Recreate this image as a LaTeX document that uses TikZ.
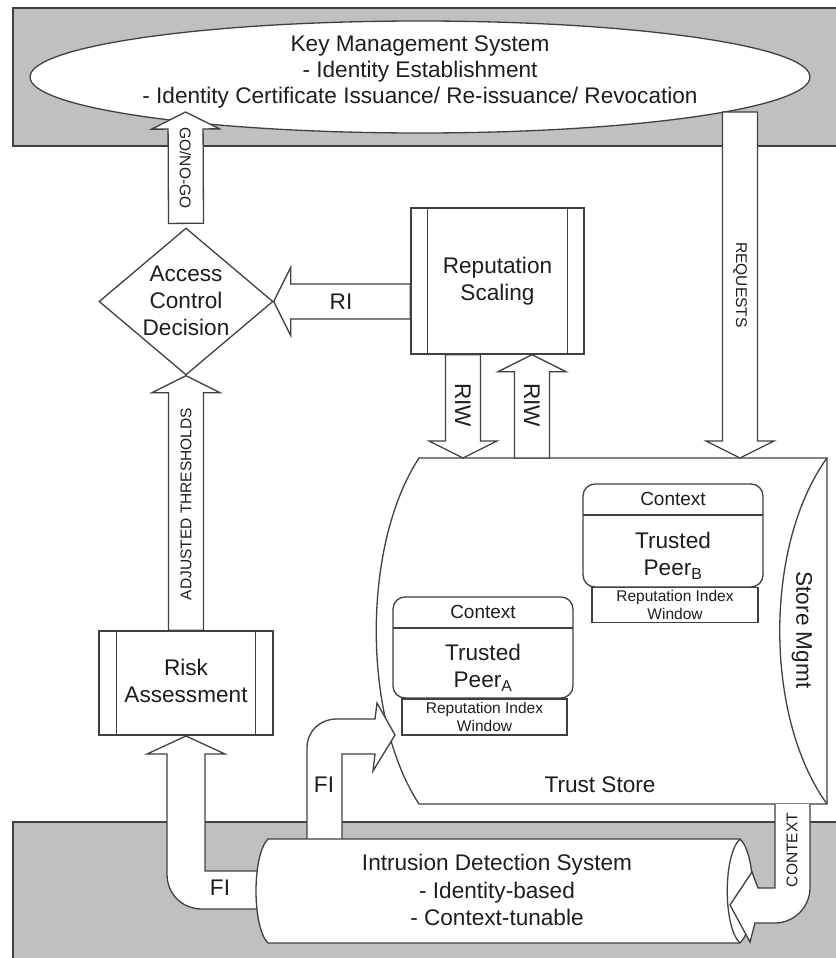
\documentclass[tikz,border=0pt]{standalone}
\usepackage{fontspec}
\setmainfont{Liberation Sans}
\usetikzlibrary{shapes.geometric,calc}

\definecolor{band}{RGB}{192,192,192}
\definecolor{edge}{RGB}{64,64,64}
\definecolor{ink}{RGB}{30,30,30}

\tikzset{
  outline/.style={draw=edge, line width=1.3pt, fill=white, line join=miter},
  edgeline/.style={draw=edge, line width=1.3pt},
  bandbox/.style={draw=edge, line width=1.3pt, fill=band},
  bigtext/.style={font=\fontsize{22.6}{27}\selectfont, text=ink, align=center, inner sep=0pt},
  smalltext/.style={font=\fontsize{15.5}{18}\selectfont, text=ink, align=center, inner sep=0pt},
  ctxtext/.style={font=\fontsize{19}{22}\selectfont, text=ink, inner sep=0pt},
  procbox/.style={outline, inner sep=0pt},
}

% straight block arrow from a tail point to a tip point
\newcommand{\blockarrow}[2]{%
  \draw[outline] let \p1=($(#2)-(#1)$), \n1={veclen(\x1,\y1)}, \n2={atan2(\y1,\x1)} in
    {[shift={(#1)}, rotate=\n2]
     (0,-17.5) -- ({\n1-17},-17.5) -- ({\n1-17},-34) -- (\n1,0) --
     ({\n1-17},34) -- ({\n1-17},17.5) -- (0,17.5) -- cycle};
}

\begin{document}
\begin{tikzpicture}[x=1pt, y=-1pt]
\useasboundingbox (0,0) rectangle (835,958);

% system bands
\path[bandbox] (13,8) rectangle (845,146);
\path[bandbox] (13,822) rectangle (845,968);

% key management system
\node[ellipse, outline, minimum width=780, minimum height=112, inner sep=0pt] (kms) at (420,77) {};
\node[bigtext, font=\fontsize{22.6}{26}\selectfont] (kmstext) at (420,72)
  {Key Management System\\- Identity Establishment\\- Identity Certificate Issuance/ Re-issuance/ Revocation};

% access control decision
\node[diamond, outline, minimum width=174, minimum height=147, inner sep=0pt] (acd) at (186,301.5) {};
\node[bigtext] (acdtext) at (186,301) {Access\\Control\\Decision};

% reputation scaling
\node[procbox, minimum width=173, minimum height=146] (rs) at (497.5,281) {};
\draw[edgeline] ($(rs.north west)+(17,0)$) -- ($(rs.south west)+(17,0)$);
\draw[edgeline] ($(rs.north east)+(-17,0)$) -- ($(rs.south east)+(-17,0)$);
\node[bigtext] (rstext) at (rs) {Reputation\\Scaling};

% risk assessment
\node[procbox, minimum width=174, minimum height=104] (ra) at (186,683) {};
\draw[edgeline] ($(ra.north west)+(18,0)$) -- ($(ra.south west)+(18,0)$);
\draw[edgeline] ($(ra.north east)+(-18,0)$) -- ($(ra.south east)+(-18,0)$);
\node[bigtext] (ratext) at (186,681) {Risk\\Assessment};

% trust store
\path[outline] (419,458) -- (827,458) -- (827,804) -- (419,804)
  .. controls (362,717) and (362,545) .. (419,458) -- cycle;
\draw[edgeline] (827,458) .. controls (764,545) and (764,717) .. (827,804);
\coordinate (ts-top-left) at (463,458);
\coordinate (ts-top-mid) at (532,458);
\coordinate (ts-top-right) at (740,458);
\node[bigtext] (tslabel) at (600,785) {Trust Store};
\node[bigtext, rotate=-90] (mgmt) at (802,630) {Store Mgmt};

% trusted peer B
\node[outline, rounded corners=12pt, minimum width=180, minimum height=103, inner sep=0pt] (peerB) at (673,535.5) {};
\draw[edgeline] (583,515) -- (763,515);
\node[ctxtext] at (673,499) {Context};
\node[bigtext] at (673,556) {Trusted\\Peer\textsubscript{B}};
\node[outline, minimum width=166, minimum height=35, inner sep=0pt] (riwB) at (675,605) {};
\node[smalltext] at (riwB) {Reputation Index\\Window};

% trusted peer A
\node[outline, rounded corners=12pt, minimum width=180, minimum height=101, inner sep=0pt] (peerA) at (483,647.5) {};
\draw[edgeline] (393,628) -- (573,628);
\node[ctxtext] at (483,612) {Context};
\node[bigtext] at (483,668) {Trusted\\Peer\textsubscript{A}};
\node[outline, minimum width=165, minimum height=36, inner sep=0pt] (riwA) at (484.5,717) {};
\node[smalltext] at (riwA) {Reputation Index\\Window};

% feedback index into the trust store
\path[outline] (342,850) -- (342,754) -- (375,754) -- (373,771) -- (395,735) -- (377,703)
  -- (375,719) -- (337,719) .. controls (320,719) and (307,731) .. (307,748) -- (307,850);
\node[bigtext] (fi1) at (324,785) {FI};

% feedback index into risk assessment
\path[outline] (270,871) -- (205,871) -- (205,754) -- (225,754) -- (186,736) -- (147,754)
  -- (167,754) -- (167,874) .. controls (167,894) and (182,909) .. (202,909) -- (270,909);
\node[bigtext] (fi2) at (220,888) {FI};

% intrusion detection system
\path[outline] (268,839) -- (740,839) .. controls (757,855) and (757,927) .. (740,943)
  -- (268,943) .. controls (252,927) and (252,855) .. (268,839) -- cycle;
\draw[edgeline] (740,839) .. controls (723,855) and (723,927) .. (740,943);
\node[bigtext, font=\fontsize{22.6}{27.5}\selectfont] (ids) at (497,890)
  {Intrusion Detection System\\- Identity-based\\- Context-tunable};

% context feed from the trust store
\path[outline] (775,804) -- (775,888) -- (758,888) -- (752,872) -- (730,905) -- (750,942)
  -- (755,923) -- (775,923) .. controls (794,923) and (810,907) .. (810,888) -- (810,804);
\node[smalltext, rotate=90] (ctxlabel) at (792,850) {CONTEXT};

% straight block arrows
\coordinate (gonogo-tip) at (185.5,112);
\coordinate (req-tail) at (740,112);
\blockarrow{$(acd.north)+(0,-4)$}{gonogo-tip}
\node[smalltext, rotate=-90] at (185.5,168) {GO/NO-GO};

\blockarrow{rs.west |- acd.east}{acd.east}
\node[bigtext] at (341,302) {RI};

\blockarrow{rs.south -| ts-top-left}{ts-top-left}
\node[bigtext, rotate=-90] at (463,405) {RIW};
\blockarrow{ts-top-mid}{rs.south -| ts-top-mid}
\node[bigtext, rotate=-90] at (532,405) {RIW};

\blockarrow{req-tail}{ts-top-right}
\node[smalltext, rotate=-90] at (740,285) {REQUESTS};

\blockarrow{ra.north}{acd.south}
\node[smalltext, rotate=90] at (186,504) {ADJUSTED THRESHOLDS};
\end{tikzpicture}
\end{document}
